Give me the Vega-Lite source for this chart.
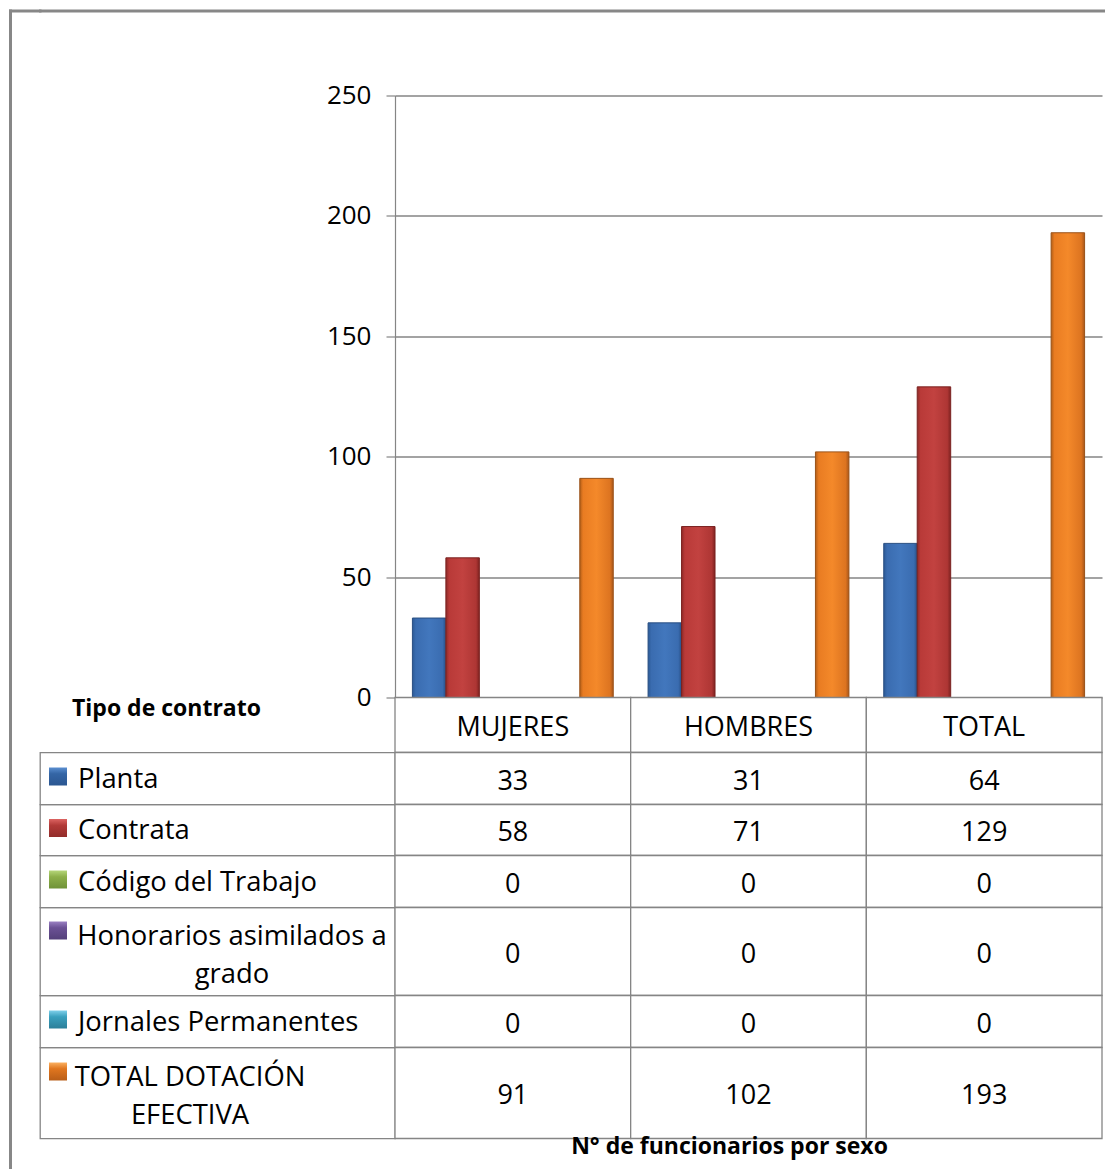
{
  "$schema": "https://vega.github.io/schema/vega-lite/v6.json",
  "padding": {"left": 10, "top": 10.5, "right": 0, "bottom": 0},
  "background": "white",
  "config": {
    "view": {"stroke": null},
    "font": "Open Sans",
    "text": {"font": "Open Sans", "fontSize": 27, "fill": "#000000"}
  },
  "datasets": {
    "tabla": [
      {"tipo": "Planta", "cat": "MUJERES", "valor": 33},
      {"tipo": "Planta", "cat": "HOMBRES", "valor": 31},
      {"tipo": "Planta", "cat": "TOTAL", "valor": 64},
      {"tipo": "Contrata", "cat": "MUJERES", "valor": 58},
      {"tipo": "Contrata", "cat": "HOMBRES", "valor": 71},
      {"tipo": "Contrata", "cat": "TOTAL", "valor": 129},
      {"tipo": "Código del Trabajo", "cat": "MUJERES", "valor": 0},
      {"tipo": "Código del Trabajo", "cat": "HOMBRES", "valor": 0},
      {"tipo": "Código del Trabajo", "cat": "TOTAL", "valor": 0},
      {"tipo": "Honorarios asimilados a grado", "cat": "MUJERES", "valor": 0},
      {"tipo": "Honorarios asimilados a grado", "cat": "HOMBRES", "valor": 0},
      {"tipo": "Honorarios asimilados a grado", "cat": "TOTAL", "valor": 0},
      {"tipo": "Jornales Permanentes", "cat": "MUJERES", "valor": 0},
      {"tipo": "Jornales Permanentes", "cat": "HOMBRES", "valor": 0},
      {"tipo": "Jornales Permanentes", "cat": "TOTAL", "valor": 0},
      {"tipo": "TOTAL DOTACIÓN EFECTIVA", "cat": "MUJERES", "valor": 91},
      {"tipo": "TOTAL DOTACIÓN EFECTIVA", "cat": "HOMBRES", "valor": 102},
      {"tipo": "TOTAL DOTACIÓN EFECTIVA", "cat": "TOTAL", "valor": 193}
    ],
    "filas": [
      {"tipo": "Planta", "etiqueta": "Planta"},
      {"tipo": "Contrata", "etiqueta": "Contrata"},
      {"tipo": "Código del Trabajo", "etiqueta": "Código del Trabajo"},
      {"tipo": "Honorarios asimilados a grado", "etiqueta": "Honorarios asimilados a\ngrado"},
      {"tipo": "Jornales Permanentes", "etiqueta": "Jornales Permanentes"},
      {"tipo": "TOTAL DOTACIÓN EFECTIVA", "etiqueta": "TOTAL DOTACIÓN\nEFECTIVA"}
    ],
    "categorias": [
      {"cat": "MUJERES"},
      {"cat": "HOMBRES"},
      {"cat": "TOTAL"}
    ]
  },
  "bounds": "flush",
  "spacing": 0,
  "hconcat": [
    {
      "data": {"values": []},
      "width": 29.5,
      "height": 1157.5,
      "mark": {"type": "point", "opacity": 0},
      "encoding": {
        "x": {"field": "a", "type": "quantitative", "scale": {"domain": [0, 1]},
          "axis": {"orient": "top", "domain": true, "domainColor": "#878787", "domainWidth": 3, "domainCap": "square", "labels": false, "ticks": false, "grid": false, "title": null}},
        "y": {"field": "b", "type": "quantitative", "scale": {"domain": [0, 1]},
          "axis": {"orient": "left", "domain": true, "domainColor": "#878787", "domainWidth": 3, "domainCap": "square", "labels": false, "ticks": false, "grid": false, "title": null}}
      }
    },
    {
      "bounds": "flush",
      "spacing": 0,
      "vconcat": [
        {
          "data": {"values": []},
          "width": 1064.5,
          "height": 85,
          "mark": {"type": "point", "opacity": 0},
          "encoding": {
            "x": {"field": "a", "type": "quantitative", "scale": {"domain": [0, 1]},
              "axis": {"orient": "top", "domain": true, "domainColor": "#878787", "domainWidth": 3, "domainCap": "square", "labels": false, "ticks": false, "grid": false, "title": null}}
          }
        },
        {
          "columns": 2,
          "spacing": 0,
          "bounds": "flush",
          "concat": [
            {"data": {"values": []}, "width": 355, "height": 602, "mark": {"type": "text"}},
            {
              "data": {"name": "tabla"},
              "width": 707,
              "height": 602,
              "encoding": {
                "x": {"field": "cat", "type": "nominal", "sort": null,
                  "scale": {"domain": ["MUJERES", "HOMBRES", "TOTAL"], "paddingInner": 0, "paddingOuter": 0}, "axis": null},
                "xOffset": {"field": "tipo", "type": "nominal", "sort": null,
                  "scale": {"domain": ["Planta", "Contrata", "Código del Trabajo", "Honorarios asimilados a grado", "Jornales Permanentes", "TOTAL DOTACIÓN EFECTIVA"], "paddingInner": 0, "paddingOuter": 0.52}},
                "y": {"field": "valor", "type": "quantitative",
                  "scale": {"domain": [0, 250], "nice": false},
                  "axis": {"values": [0, 50, 100, 150, 200, 250], "grid": true, "gridColor": "#858585", "gridWidth": 1.4, "domainColor": "#858585", "domainWidth": 1.2, "tickColor": "#858585", "tickWidth": 1.2, "tickSize": 9, "labelFont": "Open Sans", "labelFontSize": 26, "labelColor": "#000000", "labelPadding": 15, "title": null}}
              },
              "layer": [
                {"transform": [{"filter": "datum.tipo === 'Planta'"}],
                  "mark": {"type": "bar", "stroke": "#2a4f82", "strokeWidth": 1,
                    "fill": {"gradient": "linear", "x1": 0, "x2": 1, "y1": 0, "y2": 0,
                      "stops": [{"offset": 0, "color": "#2c5a96"}, {"offset": 0.1, "color": "#3a6cb0"}, {"offset": 0.5, "color": "#4277bd"}, {"offset": 0.9, "color": "#3a6cb0"}, {"offset": 1, "color": "#284f86"}]}}},
                {"transform": [{"filter": "datum.tipo === 'Contrata'"}],
                  "mark": {"type": "bar", "stroke": "#7a2220", "strokeWidth": 1,
                    "fill": {"gradient": "linear", "x1": 0, "x2": 1, "y1": 0, "y2": 0,
                      "stops": [{"offset": 0, "color": "#8e2a28"}, {"offset": 0.1, "color": "#b93a38"}, {"offset": 0.5, "color": "#c24240"}, {"offset": 0.9, "color": "#ae3634"}, {"offset": 1, "color": "#7f2220"}]}}},
                {"transform": [{"filter": "datum.tipo === 'Código del Trabajo'"}],
                  "mark": {"type": "bar", "fill": "#8db04a", "strokeWidth": 0}},
                {"transform": [{"filter": "datum.tipo === 'Honorarios asimilados a grado'"}],
                  "mark": {"type": "bar", "fill": "#6b5195", "strokeWidth": 0}},
                {"transform": [{"filter": "datum.tipo === 'Jornales Permanentes'"}],
                  "mark": {"type": "bar", "fill": "#3aa0be", "strokeWidth": 0}},
                {"transform": [{"filter": "datum.tipo === 'TOTAL DOTACIÓN EFECTIVA'"}],
                  "mark": {"type": "bar", "stroke": "#9a5218", "strokeWidth": 1,
                    "fill": {"gradient": "linear", "x1": 0, "x2": 1, "y1": 0, "y2": 0,
                      "stops": [{"offset": 0, "color": "#b35e17"}, {"offset": 0.1, "color": "#e97c22"}, {"offset": 0.5, "color": "#f4892a"}, {"offset": 0.9, "color": "#dd7420"}, {"offset": 1, "color": "#a9561a"}]}}}
              ]
            },
            {
              "data": {"values": [{"t": "Tipo de contrato"}]},
              "width": 355,
              "height": 55,
              "mark": {"type": "text", "align": "left", "baseline": "middle", "dx": -145.5, "dy": -16.5, "fontSize": 23, "fontWeight": "bold"},
              "encoding": {"text": {"field": "t", "type": "nominal"}}
            },
            {
              "data": {"name": "categorias"},
              "width": 707,
              "height": 55,
              "encoding": {
                "x": {"field": "cat", "type": "nominal", "sort": null,
                  "scale": {"domain": ["MUJERES", "HOMBRES", "TOTAL"], "paddingInner": 0, "paddingOuter": 0}, "axis": null}
              },
              "layer": [
                {"mark": {"type": "rect", "fill": "white", "stroke": "#858585", "strokeWidth": 1.3}},
                {"mark": {"type": "text", "baseline": "middle", "fontSize": 27, "dy": 3}, "encoding": {"text": {"field": "cat", "type": "nominal"}}}
              ]
            },
            {
              "data": {"name": "filas"},
              "transform": [{"filter": "datum.tipo === 'Planta'"}],
              "width": 355, "height": 52,
              "view": {"stroke": "#858585", "strokeWidth": 1.3},
              "layer": [
                {"mark": {"type": "point", "shape": "square", "size": 324, "filled": true, "opacity": 1, "strokeWidth": 0, "xOffset": -159.5, "yOffset": -2,
                  "fill": {"gradient": "linear", "x1": 0, "x2": 0, "y1": 0, "y2": 1, "stops": [{"offset": 0, "color": "#5a8ed0"}, {"offset": 0.35, "color": "#3465a5"}, {"offset": 1, "color": "#2b5691"}]}}, "encoding": {}},
                {"mark": {"type": "text", "align": "left", "baseline": "middle", "dx": -139.5, "dy": 1, "fontSize": 27.4, "lineHeight": 38, "lineBreak": "\n"}, "encoding": {"text": {"field": "etiqueta", "type": "nominal"}}}
              ]
            },
            {
              "data": {"name": "tabla"},
              "transform": [{"filter": "datum.tipo === 'Planta'"}],
              "width": 707, "height": 52,
              "encoding": {"x": {"field": "cat", "type": "nominal", "sort": null, "scale": {"domain": ["MUJERES", "HOMBRES", "TOTAL"], "paddingInner": 0, "paddingOuter": 0}, "axis": null}},
              "layer": [
                {"mark": {"type": "rect", "fill": "white", "stroke": "#858585", "strokeWidth": 1.3}},
                {"mark": {"type": "text", "baseline": "middle", "fontSize": 27, "dy": 3}, "encoding": {"text": {"field": "valor", "type": "quantitative"}}}
              ]
            },
            {
              "data": {"name": "filas"},
              "transform": [{"filter": "datum.tipo === 'Contrata'"}],
              "width": 355, "height": 51,
              "view": {"stroke": "#858585", "strokeWidth": 1.3},
              "layer": [
                {"mark": {"type": "point", "shape": "square", "size": 324, "filled": true, "opacity": 1, "strokeWidth": 0, "xOffset": -159.5, "yOffset": -2,
                  "fill": {"gradient": "linear", "x1": 0, "x2": 0, "y1": 0, "y2": 1, "stops": [{"offset": 0, "color": "#dc6462"}, {"offset": 0.35, "color": "#b23a38"}, {"offset": 1, "color": "#922c2a"}]}}, "encoding": {}},
                {"mark": {"type": "text", "align": "left", "baseline": "middle", "dx": -139.5, "dy": 1, "fontSize": 27.4, "lineHeight": 38, "lineBreak": "\n"}, "encoding": {"text": {"field": "etiqueta", "type": "nominal"}}}
              ]
            },
            {
              "data": {"name": "tabla"},
              "transform": [{"filter": "datum.tipo === 'Contrata'"}],
              "width": 707, "height": 51,
              "encoding": {"x": {"field": "cat", "type": "nominal", "sort": null, "scale": {"domain": ["MUJERES", "HOMBRES", "TOTAL"], "paddingInner": 0, "paddingOuter": 0}, "axis": null}},
              "layer": [
                {"mark": {"type": "rect", "fill": "white", "stroke": "#858585", "strokeWidth": 1.3}},
                {"mark": {"type": "text", "baseline": "middle", "fontSize": 27, "dy": 3}, "encoding": {"text": {"field": "valor", "type": "quantitative"}}}
              ]
            },
            {
              "data": {"name": "filas"},
              "transform": [{"filter": "datum.tipo === 'Código del Trabajo'"}],
              "width": 355, "height": 52,
              "view": {"stroke": "#858585", "strokeWidth": 1.3},
              "layer": [
                {"mark": {"type": "point", "shape": "square", "size": 324, "filled": true, "opacity": 1, "strokeWidth": 0, "xOffset": -159.5, "yOffset": -2,
                  "fill": {"gradient": "linear", "x1": 0, "x2": 0, "y1": 0, "y2": 1, "stops": [{"offset": 0, "color": "#b5d67a"}, {"offset": 0.35, "color": "#8db04a"}, {"offset": 1, "color": "#6f9238"}]}}, "encoding": {}},
                {"mark": {"type": "text", "align": "left", "baseline": "middle", "dx": -139.5, "dy": 1, "fontSize": 27.4, "lineHeight": 38, "lineBreak": "\n"}, "encoding": {"text": {"field": "etiqueta", "type": "nominal"}}}
              ]
            },
            {
              "data": {"name": "tabla"},
              "transform": [{"filter": "datum.tipo === 'Código del Trabajo'"}],
              "width": 707, "height": 52,
              "encoding": {"x": {"field": "cat", "type": "nominal", "sort": null, "scale": {"domain": ["MUJERES", "HOMBRES", "TOTAL"], "paddingInner": 0, "paddingOuter": 0}, "axis": null}},
              "layer": [
                {"mark": {"type": "rect", "fill": "white", "stroke": "#858585", "strokeWidth": 1.3}},
                {"mark": {"type": "text", "baseline": "middle", "fontSize": 27, "dy": 3}, "encoding": {"text": {"field": "valor", "type": "quantitative"}}}
              ]
            },
            {
              "data": {"name": "filas"},
              "transform": [{"filter": "datum.tipo === 'Honorarios asimilados a grado'"}],
              "width": 355, "height": 88,
              "view": {"stroke": "#858585", "strokeWidth": 1.3},
              "layer": [
                {"mark": {"type": "point", "shape": "square", "size": 324, "filled": true, "opacity": 1, "strokeWidth": 0, "xOffset": -159.5, "yOffset": -21,
                  "fill": {"gradient": "linear", "x1": 0, "x2": 0, "y1": 0, "y2": 1, "stops": [{"offset": 0, "color": "#9a80c2"}, {"offset": 0.35, "color": "#6b5195"}, {"offset": 1, "color": "#54407a"}]}}, "encoding": {}},
                {"mark": {"type": "text", "align": "center", "baseline": "middle", "dx": 14.5, "dy": -15, "fontSize": 27.4, "lineHeight": 38, "lineBreak": "\n"}, "encoding": {"text": {"field": "etiqueta", "type": "nominal"}}}
              ]
            },
            {
              "data": {"name": "tabla"},
              "transform": [{"filter": "datum.tipo === 'Honorarios asimilados a grado'"}],
              "width": 707, "height": 88,
              "encoding": {"x": {"field": "cat", "type": "nominal", "sort": null, "scale": {"domain": ["MUJERES", "HOMBRES", "TOTAL"], "paddingInner": 0, "paddingOuter": 0}, "axis": null}},
              "layer": [
                {"mark": {"type": "rect", "fill": "white", "stroke": "#858585", "strokeWidth": 1.3}},
                {"mark": {"type": "text", "baseline": "middle", "fontSize": 27, "dy": 3}, "encoding": {"text": {"field": "valor", "type": "quantitative"}}}
              ]
            },
            {
              "data": {"name": "filas"},
              "transform": [{"filter": "datum.tipo === 'Jornales Permanentes'"}],
              "width": 355, "height": 52,
              "view": {"stroke": "#858585", "strokeWidth": 1.3},
              "layer": [
                {"mark": {"type": "point", "shape": "square", "size": 324, "filled": true, "opacity": 1, "strokeWidth": 0, "xOffset": -159.5, "yOffset": -2,
                  "fill": {"gradient": "linear", "x1": 0, "x2": 0, "y1": 0, "y2": 1, "stops": [{"offset": 0, "color": "#7fd0ea"}, {"offset": 0.35, "color": "#3aa0be"}, {"offset": 1, "color": "#2c7f99"}]}}, "encoding": {}},
                {"mark": {"type": "text", "align": "left", "baseline": "middle", "dx": -139.5, "dy": 1, "fontSize": 27.4, "lineHeight": 38, "lineBreak": "\n"}, "encoding": {"text": {"field": "etiqueta", "type": "nominal"}}}
              ]
            },
            {
              "data": {"name": "tabla"},
              "transform": [{"filter": "datum.tipo === 'Jornales Permanentes'"}],
              "width": 707, "height": 52,
              "encoding": {"x": {"field": "cat", "type": "nominal", "sort": null, "scale": {"domain": ["MUJERES", "HOMBRES", "TOTAL"], "paddingInner": 0, "paddingOuter": 0}, "axis": null}},
              "layer": [
                {"mark": {"type": "rect", "fill": "white", "stroke": "#858585", "strokeWidth": 1.3}},
                {"mark": {"type": "text", "baseline": "middle", "fontSize": 27, "dy": 3}, "encoding": {"text": {"field": "valor", "type": "quantitative"}}}
              ]
            },
            {
              "data": {"name": "filas"},
              "transform": [{"filter": "datum.tipo === 'TOTAL DOTACIÓN EFECTIVA'"}],
              "width": 355, "height": 91,
              "view": {"stroke": "#858585", "strokeWidth": 1.3},
              "layer": [
                {"mark": {"type": "point", "shape": "square", "size": 324, "filled": true, "opacity": 1, "strokeWidth": 0, "xOffset": -159.5, "yOffset": -21.5,
                  "fill": {"gradient": "linear", "x1": 0, "x2": 0, "y1": 0, "y2": 1, "stops": [{"offset": 0, "color": "#fbb060"}, {"offset": 0.35, "color": "#e0761f"}, {"offset": 1, "color": "#b95e18"}]}}, "encoding": {}},
                {"mark": {"type": "text", "align": "center", "baseline": "middle", "dx": -27.5, "dy": -15.5, "fontSize": 27.4, "lineHeight": 38, "lineBreak": "\n"}, "encoding": {"text": {"field": "etiqueta", "type": "nominal"}}}
              ]
            },
            {
              "data": {"name": "tabla"},
              "transform": [{"filter": "datum.tipo === 'TOTAL DOTACIÓN EFECTIVA'"}],
              "width": 707, "height": 91,
              "encoding": {"x": {"field": "cat", "type": "nominal", "sort": null, "scale": {"domain": ["MUJERES", "HOMBRES", "TOTAL"], "paddingInner": 0, "paddingOuter": 0},
                "axis": {"orient": "bottom", "labels": false, "ticks": false, "domain": false, "grid": false, "title": "N° de funcionarios por sexo", "titleFont": "Open Sans", "titleFontSize": 23, "titleFontWeight": "bold", "titleColor": "#000000", "titleX": 334, "titleY": 15, "titleBaseline": "alphabetic"}}},
              "layer": [
                {"mark": {"type": "rect", "fill": "white", "stroke": "#858585", "strokeWidth": 1.3}},
                {"mark": {"type": "text", "baseline": "middle", "fontSize": 27, "dy": 3}, "encoding": {"text": {"field": "valor", "type": "quantitative"}}}
              ]
            }
          ]
        }
      ]
    }
  ]
}
